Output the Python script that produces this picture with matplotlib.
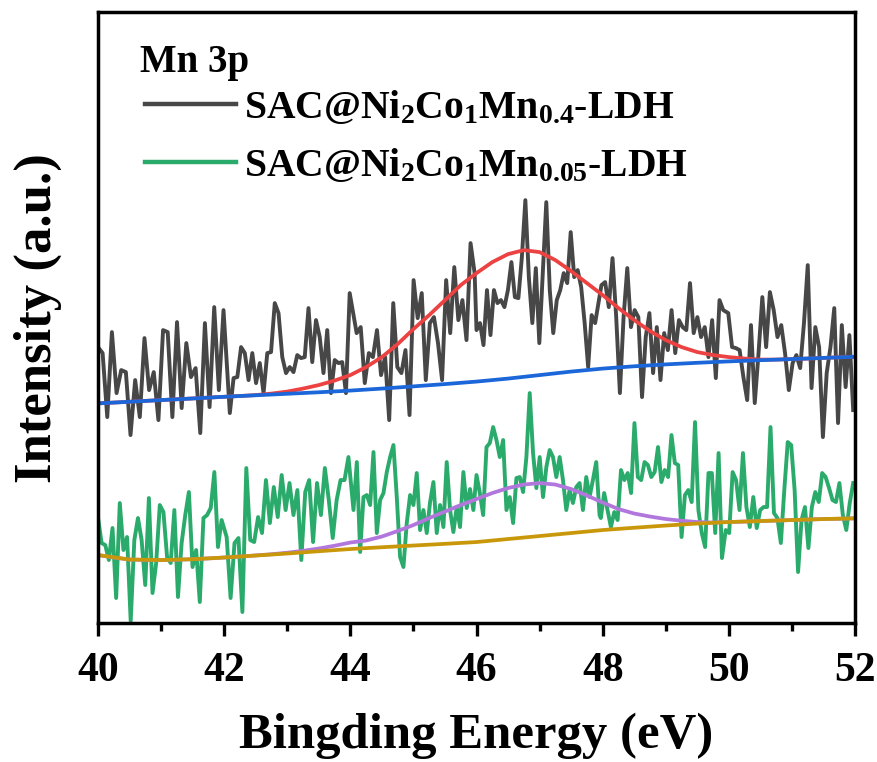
import numpy as np
import matplotlib
matplotlib.use("Agg")
import matplotlib.pyplot as plt
from matplotlib.ticker import MultipleLocator

# Mn 3p spectra, intensity in arbitrary units
# each spectrum is stored in six pieces with the energy span of each piece
gray_spans = [(40.00, 41.99), (42.09, 43.99), (44.10, 45.97),
              (46.00, 47.88), (47.98, 49.91), (49.99, 51.97)]
gray_parts = [
  [276, 270, 206, 291, 230, 253, 251, 188, 243, 206, 285, 233, 251, 203, 293, 291, 206, 301, 215, 280, 246, 255, 190, 300, 216, 316, 233, 313],
  [210, 245, 246, 276, 270, 243, 270, 240, 260, 230, 270, 271, 320, 310, 266, 250, 256, 251, 268, 265, 266, 315, 261, 303, 286, 250, 293, 230, 263, 260, 261, 230, 330],
  [290, 296, 240, 270, 266, 293, 248, 266, 203, 320, 256, 250, 273, 208, 343, 305, 330, 243, 300, 306, 280, 243, 343, 290, 356, 303, 323, 283, 380, 350],
  [293, 300, 278, 333, 288, 333, 320, 323, 316, 333, 361, 326, 325, 366, 423, 346, 300, 355, 280, 350, 421, 333, 290, 323, 333, 350, 340, 391, 346, 353, 336, 300, 256, 308, 300],
  [338, 341, 316, 365, 306, 230, 306, 355, 296, 313, 306, 226, 286, 310, 250, 296, 243, 290, 273, 313, 270, 303, 296, 293, 340, 290, 306, 286, 296, 266, 303, 245, 323, 313],
  [310, 276, 275, 273, 246, 223, 298, 220, 270, 326, 276, 331, 313, 286, 298, 270, 233, 260, 268, 255, 300, 358, 235, 296, 276, 186, 250, 276, 315, 200, 298, 236, 288, 213],
]

green_spans = [(40.00, 41.96), (42.04, 43.97), (44.05, 45.95),
               (46.00, 47.95), (47.97, 49.89), (49.95, 51.97)]
green_parts = [
  [106, 80, 78, 63, 95, 25, 120, 73, 86, 2, 83, 105, 83, 38, 125, 30, 60, 118, 111, 66, 60, 113, 26, 80, 108, 131, 56, 73, 21, 105, 108, 115, 151, 76, 103],
  [86, 25, 80, 85, 11, 155, 83, 81, 106, 90, 143, 100, 136, 106, 148, 113, 140, 108, 133, 63, 131, 143, 81, 140, 108, 155, 123, 85, 123, 143, 143, 166],
  [113, 161, 71, 126, 128, 118, 171, 90, 123, 130, 151, 166, 178, 126, 66, 56, 100, 128, 118, 150, 93, 113, 90, 121, 141, 90, 118, 96, 161, 113, 91, 116, 96, 151, 115, 134, 113],
  [148, 130, 108, 176, 180, 196, 183, 166, 183, 113, 126, 100, 145, 146, 131, 166, 230, 170, 135, 166, 126, 156, 173, 166, 146, 166, 143, 113, 133, 120, 136, 140, 113, 146, 126, 143, 161, 108],
  [105, 130, 113, 96, 111, 103, 153, 143, 150, 130, 200, 146, 143, 161, 158, 146, 151, 176, 141, 153, 146, 188, 160, 158, 86, 128, 133, 121, 201, 113, 90, 76, 150, 150, 90, 170, 65],
  [93, 90, 151, 143, 113, 170, 116, 96, 126, 95, 113, 116, 116, 196, 110, 105, 80, 133, 181, 178, 133, 51, 103, 116, 75, 116, 131, 121, 150, 146, 135, 123, 121, 140, 108, 93, 120, 140],
]

# fitted curves (0.25 eV) and backgrounds (0.5 eV)
red_fit = [219.7, 220.5, 221.3, 222.2, 223, 223.8, 224.6, 225.5, 226.3, 227.1, 228, 229.5,
           231.5, 234.5, 238, 242.5, 248, 256, 266, 279, 294, 308, 323, 338, 350, 361, 369, 373,
           371, 363, 352, 340, 328, 315, 303, 292, 283, 276, 271, 268, 266, 264.5, 263.5, 263.5,
           264, 264.5, 265.2, 265.8, 266.3]
blue_bg = [219.7, 221.3, 223, 224.6, 226.3, 227.8, 229.3, 230.8, 232.5, 234.5, 236.7, 239, 241.5,
           244.5, 248, 251.5, 254.5, 256.8, 258.7, 260.3, 261.7, 262.9, 264, 265.2, 266.3]
purple_fit = [68, 65.5, 63.5, 63.1, 63, 63.3, 63.8, 64.6, 65.5, 66.5, 67.6, 68.8, 70.3, 72.2, 74.5,
              77.3, 80.5, 82.5, 86.5, 92, 98, 105, 111.5, 118, 124, 130, 135, 138.5, 140, 138.5,
              134, 127.5, 120.5, 114, 109.5, 106.5, 104, 102.3, 101, 100.5, 101, 101.5, 102, 102.5,
              103, 103.5, 104, 104.3, 104.7]
gold_bg = [68, 63.5, 63, 63.8, 65.5, 67.5, 69.5, 71.8, 74, 75.8, 77.5, 79.2, 81, 84, 87, 90, 93,
           95.3, 97.5, 99.5, 101, 102, 103, 104, 104.7]

label_a = r'SAC@Ni$_2$Co$_1$Mn$_{0.4}$-LDH'
label_b = r'SAC@Ni$_2$Co$_1$Mn$_{0.05}$-LDH'


def join(spans, parts):
  x = np.concatenate([np.linspace(a, b, len(p)) for (a, b), p in zip(spans, parts)])
  y = np.concatenate([np.array(p, dtype=float) for p in parts])
  return x, y


plt.rcParams['font.family'] = 'Liberation Serif'
plt.rcParams['font.weight'] = 'bold'
plt.rcParams['mathtext.fontset'] = 'custom'
plt.rcParams['mathtext.rm'] = 'Liberation Serif:bold'
plt.rcParams['mathtext.bf'] = 'Liberation Serif:bold'
plt.rcParams['mathtext.default'] = 'bf'

fig = plt.figure(figsize=(8.77, 7.62), dpi=100)
ax = fig.add_axes([0.1117, 0.1824, 0.8633, 0.8016])

xg, yg = join(gray_spans, gray_parts)
xe, ye = join(green_spans, green_parts)
x_fit = np.linspace(40, 52, len(red_fit))
x_bg = np.linspace(40, 52, len(blue_bg))

ax.plot(xg, yg, color='#474747', lw=2.8, label=label_a)
ax.plot(xe, ye, color='#2bab6b', lw=2.8, label=label_b)
ax.plot(x_fit, red_fit, color='#ec4242', lw=2.7)
ax.plot(x_bg, blue_bg, color='#1b66d8', lw=2.7)
ax.plot(x_fit, purple_fit, color='#b277dc', lw=2.7)
ax.plot(x_bg, gold_bg, color='#c9980a', lw=2.7)

ax.set_xlim(40, 52)
ax.set_ylim(0, 611)
ax.xaxis.set_major_locator(MultipleLocator(2))
ax.xaxis.set_minor_locator(MultipleLocator(1))
ax.set_yticks([])
ax.tick_params(axis='x', which='major', direction='out', length=9, width=2.4,
               labelsize=30, pad=12)
ax.tick_params(axis='x', which='minor', direction='out', length=5.5, width=2.4)
for s in ax.spines.values():
  s.set_linewidth(2.5)

ax.set_xlabel('Bingding Energy (eV)', fontsize=36.5, fontweight='bold', labelpad=16)
ax.set_ylabel('Intensity (a.u.)', fontsize=38, fontweight='bold', labelpad=26)

ax.text(0.055, 0.918, 'Mn 3p', transform=ax.transAxes, fontsize=28, fontweight='bold',
        ha='left', va='center')
leg = ax.legend(loc='upper left', bbox_to_anchor=(0.015, 0.932),
                frameon=False, fontsize=28.5,
                handlelength=2.3, handletextpad=0.2, labelspacing=0.5)
for line in leg.get_lines():
  line.set_linewidth(3.2)

fig.savefig('out.png', dpi=100)
